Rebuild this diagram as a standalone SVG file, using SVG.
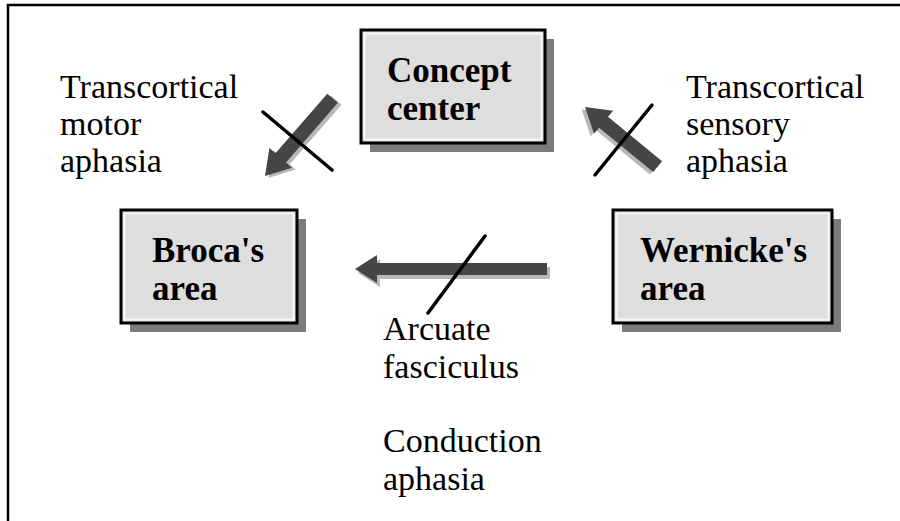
<svg xmlns="http://www.w3.org/2000/svg" width="900" height="521" viewBox="0 0 900 521">
<style>
.frame{fill:none;stroke:#000;stroke-width:2.5}
.shadow{fill:#7b7b7b}
.box{fill:#dedede;stroke:#000;stroke-width:3}
.inner{fill:none;stroke:#f6f6f6;stroke-width:2}
.bt{font-family:"Liberation Serif",serif;font-weight:bold;font-size:35px;fill:#000}
.lt{font-family:"Liberation Serif",serif;font-size:34px;fill:#000}
.arr{fill:#454545}
.ash{fill:#b8b8b8}
.x{stroke:#000;stroke-width:3.5;stroke-linecap:round}
</style>
<rect width="900" height="521" fill="#fff"/>
<path class="frame" d="M8,521 V5 H900"/>
<g id="concept-center">
<rect class="shadow" x="370" y="39" width="184" height="113"/>
<rect class="box" x="361" y="30" width="184" height="113"/>
<rect class="inner" x="364.5" y="33.5" width="177" height="106"/>
<text class="bt" x="387" y="82">Concept</text>
<text class="bt" x="387" y="120">center</text>
</g>
<g id="brocas-area">
<rect class="shadow" x="130" y="219" width="176" height="113"/>
<rect class="box" x="121" y="210" width="176" height="113"/>
<rect class="inner" x="124.5" y="213.5" width="169" height="106"/>
<text class="bt" x="152" y="262">Broca's</text>
<text class="bt" x="152" y="300">area</text>
</g>
<g id="wernickes-area">
<rect class="shadow" x="622" y="219" width="219" height="113"/>
<rect class="box" x="613" y="210" width="219" height="113"/>
<rect class="inner" x="616.5" y="213.5" width="212" height="106"/>
<text class="bt" x="640" y="262">Wernicke's</text>
<text class="bt" x="640" y="300">area</text>
</g>
<g id="connectors">
<g transform="translate(265,176) rotate(-49)">
<polygon class="ash" transform="translate(1,4)" points="0,0 24,-15 24,-7 103,-7 103,7 24,7 24,15"/>
<polygon class="arr" points="0,0 24,-15 24,-7 103,-7 103,7 24,7 24,15"/>
</g>
<g transform="translate(585,107) rotate(39.4)">
<polygon class="ash" transform="translate(-1,4)" points="0,0 24,-15 24,-7 94,-7 94,7 24,7 24,15"/>
<polygon class="arr" points="0,0 24,-15 24,-7 94,-7 94,7 24,7 24,15"/>
</g>
<g transform="translate(355,269)">
<polygon class="ash" transform="translate(3,4)" points="0,0 22,-14 22,-6 192,-6 192,6 22,6 22,14"/>
<polygon class="arr" points="0,0 22,-14 22,-6 192,-6 192,6 22,6 22,14"/>
</g>
<line class="x" x1="263" y1="112" x2="332" y2="170"/>
<line class="x" x1="652" y1="105" x2="595" y2="175"/>
<line class="x" x1="485" y1="236" x2="428" y2="313"/>
</g>
<g id="labels">
<text class="lt" x="60" y="98">Transcortical</text>
<text class="lt" x="60" y="135">motor</text>
<text class="lt" x="60" y="172">aphasia</text>
<text class="lt" x="686" y="98">Transcortical</text>
<text class="lt" x="686" y="135">sensory</text>
<text class="lt" x="686" y="172">aphasia</text>
<text class="lt" x="383" y="340">Arcuate</text>
<text class="lt" x="383" y="378">fasciculus</text>
<text class="lt" x="383" y="452">Conduction</text>
<text class="lt" x="383" y="490">aphasia</text>
</g>
</svg>
